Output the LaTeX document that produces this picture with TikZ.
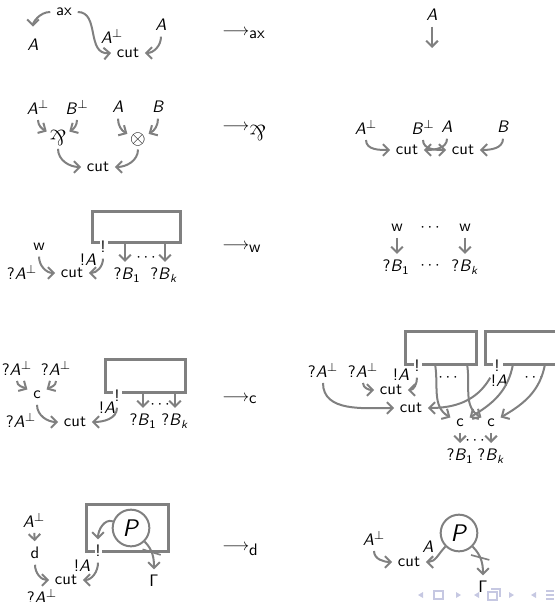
\documentclass[tikz,border=0pt]{standalone}
\usepackage{fontspec}
\usepackage{graphicx}
\usetikzlibrary{arrows.meta, decorations.markings}

\definecolor{wiregray}{RGB}{128,128,128}
\definecolor{navc}{RGB}{198,200,226}

\newcommand{\va}{\textit{A}}
\newcommand{\vb}{\textit{B}}
\newcommand{\parrsym}{\scalebox{1.3}{\rotatebox[origin=c]{180}{\rmfamily\&}}}

\tikzset{
  wire/.style={draw=wiregray, line width=1.2pt, -{Straight Barb[length=3.5pt,width=7pt]}},
  boxline/.style={draw=wiregray, line width=1.8pt},
  reduc/.style={anchor=base west, inner sep=0pt},
  link/.style={inner sep=1.5pt},
  net/.style={circle, draw=wiregray, line width=1.2pt, inner sep=0pt, minimum size=22pt, font=\sffamily\Large},
  ticked/.style={postaction={decorate}, decoration={markings,
      mark=at position 0.42 with {\draw[-, wiregray, line width=1pt] (-3.5pt,-4.5pt) -- (3.5pt,4.5pt);}}},
}

\begin{document}
\begin{tikzpicture}[x=0.6pt, y=-0.6pt, font=\sffamily]
  \useasboundingbox (0,0) rectangle (554,602);

  % ---- axiom cut
  \node (ax) at (64,12) {ax};
  \node (axl) at (33,45) {\va};
  \node (axtype) at (112,36) {\va$^{\perp}$};
  \node (axr) at (161,25) {\va};
  \node (cuta) at (128,53) {cut};
  \draw[wire, shorten >=4pt] (ax) to[out=180,in=90] (axl);
  \draw[wire] (ax.east) .. controls (100,12) and (86,55) .. (cuta.west);
  \draw[wire] (axr) to[out=-90,in=0] (cuta);

  \node[reduc] (rax) at (222,36) {$\longrightarrow_{\mbox{ax}}$};

  \node (axA) at (432,15) {\va};
  \coordinate (axend) at (432,48);
  \draw[wire] (axA) -- (axend);

  % ---- par / tensor cut
  \node (mA) at (38,107) {\va$^{\perp}$};
  \node (mB) at (77,107) {\vb$^{\perp}$};
  \node (tA) at (118,107) {\va};
  \node (tB) at (158,107) {\vb};
  \node[link] (par) at (58,138) {\parrsym};
  \node[link] (tens) at (138,140) {\large$\otimes$};
  \node (cutm) at (98,167) {cut};
  \draw[wire] (mA) to[out=-90,in=150] (par);
  \draw[wire] (mB) to[out=-90,in=30] (par);
  \draw[wire] (tA) to[out=-90,in=150] (tens);
  \draw[wire] (tB) to[out=-90,in=30] (tens);
  \draw[wire] (par) to[out=-90,in=180] (cutm);
  \draw[wire] (tens) to[out=-90,in=0] (cutm);

  \node[reduc] (rpar) at (222,131) {$\longrightarrow_{\mbox{\parrsym}}$};

  \node (nA) at (366,127) {\va$^{\perp}$};
  \node (nB) at (423,127) {\vb$^{\perp}$};
  \node (nA2) at (447,127) {\va};
  \node (nB2) at (503,127) {\vb};
  \node (ncut1) at (407,150) {cut};
  \node (ncut2) at (463,150) {cut};
  \draw[wire] (nA) to[out=-90,in=180] (ncut1);
  \draw[wire] (nB) to[out=-90,in=180] (ncut2);
  \draw[wire] (nA2) to[out=-90,in=0] (ncut1);
  \draw[wire] (nB2) to[out=-90,in=0] (ncut2);

  % ---- weakening
  \draw[boxline] (100,243) -- (92,243) -- (92,212) -- (180,212) -- (180,243) -- (108,243);
  \node (wbang) at (103,247) {!};
  \node (ww) at (39,247) {w};
  \node (wqA) at (22,272) {?\va$^{\perp}$};
  \node (wcut) at (72,273) {cut};
  \node (wbA) at (88,260) {!\va};
  \node (wB1) at (127,275) {?\vb\textsubscript{1}};
  \node (wBk) at (164,275) {?\vb\textsubscript{\textit{k}}};
  \node (wdots) at (146,258) {$\cdots$};
  \coordinate (wp1) at (125,243);
  \coordinate (wpk) at (165,243);
  \draw[wire] (ww) to[out=-90,in=180] (wcut);
  \draw[wire] (wbang) to[out=-90,in=0] (wcut);
  \draw[wire] (wp1) -- (wp1 |- wB1.north);
  \draw[wire] (wpk) -- (wpk |- wBk.north);

  \node[reduc] (rw) at (222,250) {$\longrightarrow_{\mbox{w}}$};

  \node (xw1) at (397,228) {w};
  \node (xd1) at (430,228) {$\cdots$};
  \node (xw2) at (465,228) {w};
  \node (xB1) at (396,267) {?\vb\textsubscript{1}};
  \node (xd2) at (430,266) {$\cdots$};
  \node (xBk) at (465,267) {?\vb\textsubscript{\textit{k}}};
  \draw[wire] (xw1) -- (xw1 |- xB1.north);
  \draw[wire] (xw2) -- (xw2 |- xBk.north);

  % ---- contraction
  \draw[boxline] (113,392) -- (105,392) -- (105,359) -- (185,359) -- (185,392) -- (122,392);
  \node (cbang) at (117,396) {!};
  \node (cq1) at (17,368) {?\va$^{\perp}$};
  \node (cq2) at (56,368) {?\va$^{\perp}$};
  \node (cc) at (37,395) {c};
  \node (cq3) at (21,420) {?\va$^{\perp}$};
  \node (ccut) at (75,422) {cut};
  \node (cbA) at (107,408) {!\va};
  \node (cB1) at (143,421) {?\vb\textsubscript{1}};
  \node (cBk) at (175,421) {?\vb\textsubscript{\textit{k}}};
  \node (cdots) at (160,405) {$\cdots$};
  \coordinate (cp1) at (143,392);
  \coordinate (cpk) at (175,392);
  \draw[wire] (cq1) to[out=-90,in=150] (cc);
  \draw[wire] (cq2) to[out=-90,in=30] (cc);
  \draw[wire] (cc) to[out=-90,in=180] (ccut);
  \draw[wire] (cbang) to[out=-90,in=0] (ccut);
  \draw[wire] (cp1) -- (cp1 |- cB1.north);
  \draw[wire] (cpk) -- (cpk |- cBk.north);

  \node[reduc] (rc) at (222,401) {$\longrightarrow_{\mbox{c}}$};

  \draw[boxline] (414,364) -- (405,364) -- (405,331) -- (476,331) -- (476,364) -- (422,364);
  \draw[boxline] (493,364) -- (485,364) -- (485,331) -- (557,331) -- (557,364) -- (503,364);
  \node (ybang1) at (417,366) {!};
  \node (ybang2) at (497,366) {!};
  \node (yq1) at (323,370) {?\va$^{\perp}$};
  \node (yq2) at (363,370) {?\va$^{\perp}$};
  \node (ycut1) at (391,390) {cut};
  \node (ybA1) at (401,375) {!\va};
  \node (ycut2) at (411,408) {cut};
  \node (ydots1) at (448,378) {$\cdots$};
  \node (ybA2) at (499,381) {!\va};
  \node (ydots2) at (534,378) {$\cdots$};
  \node (yc1) at (460,423) {c};
  \node (yc2) at (491,423) {c};
  \node (ydots3) at (475,441) {$\cdots$};
  \node (yB1) at (460,456) {?\vb\textsubscript{1}};
  \node (yBk) at (491,456) {?\vb\textsubscript{\textit{k}}};
  \coordinate (yp11) at (435,364);
  \coordinate (yp1k) at (467,364);
  \coordinate (yp21) at (513,364);
  \coordinate (yp2k) at (545,364);
  \draw[wire] (yq1) to[out=-90,in=180] (ycut2);
  \draw[wire] (yq2) to[out=-90,in=180] (ycut1);
  \draw[wire] (ybang1) to[out=-90,in=0] (ycut1);
  \draw[wire] (ybang2) to[out=240,in=0] (ycut2);
  \draw[wire] (yp11) to[out=-80,in=150] (yc1);
  \draw[wire] (yp1k) to[out=-80,in=150] (yc2);
  \draw[wire] (yp21) to[out=-100,in=30] (yc1);
  \draw[wire] (yp2k) to[out=-100,in=30] (yc2);
  \draw[wire] (yc1) -- (yc1 |- yB1.north);
  \draw[wire] (yc2) -- (yc2 |- yBk.north);

  % ---- dereliction
  \draw[boxline] (95,551) -- (86,551) -- (86,504) -- (168,504) -- (168,551) -- (102,551);
  \node (dbang) at (98,551) {!};
  \node[net] (dP) at (131,528) {\textit{P}};
  \node (dA) at (34,520) {\va$^{\perp}$};
  \node (dd) at (35,553) {d};
  \node (dcut) at (66,580) {cut};
  \node (dq) at (42,596) {?\va$^{\perp}$};
  \node (dbA) at (82,566) {!\va};
  \node (dG) at (154,581) {Γ};
  \draw[wire] (dA) -- (dd);
  \draw[wire] (dd) to[out=-90,in=180] (dcut);
  \draw[wire] (dbang) to[out=-90,in=0] (dcut);
  \draw[wire] (dP) to[out=160,in=90] (dbang);
  \draw[wire, ticked] (dP) to[out=-45,in=90] (dG);

  \node[reduc] (rd) at (222,550) {$\longrightarrow_{\mbox{d}}$};

  \node (eA) at (374,538) {\va$^{\perp}$};
  \node (ecut) at (409,562) {cut};
  \node (eAl) at (428,547) {\va};
  \node[net] (eP) at (459,533) {\textit{P}};
  \node (eG) at (483,587) {Γ};
  \draw[wire] (eA) to[out=-90,in=180] (ecut);
  \draw[wire] (eP) to[out=225,in=0] (ecut);
  \draw[wire, ticked] (eP) to[out=-45,in=90] (eG);

  % navigation symbols
  \fill[navc] (418,595) -- (423,592) -- (423,598) -- cycle;
  \draw[navc, line width=0.8pt] (434,591) rectangle (443,599);
  \fill[navc] (456,592) -- (461,595) -- (456,598) -- cycle;
  \fill[navc] (474,595) -- (479,592) -- (479,598) -- cycle;
  \draw[navc, line width=0.8pt] (488,592) rectangle (497,600) (491,589) -- (500,589) -- (500,597);
  \fill[navc] (509,592) -- (514,595) -- (509,598) -- cycle;
  \fill[navc] (531,595) -- (536,592) -- (536,598) -- cycle;
  \draw[navc, line width=0.8pt] (546,591) -- (554,591) (546,595) -- (554,595) (546,599) -- (554,599);
\end{tikzpicture}
\end{document}
